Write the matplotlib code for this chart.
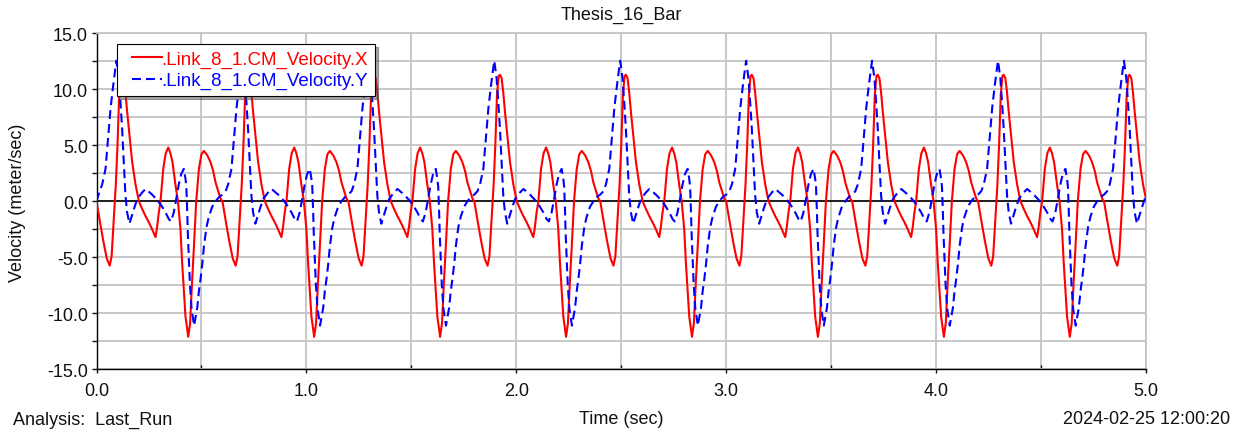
import numpy as np
import matplotlib
matplotlib.use("Agg")
import matplotlib.pyplot as plt
from matplotlib.legend_handler import HandlerLine2D
from matplotlib.ticker import MultipleLocator, FormatStrFormatter

plt.rcParams['font.family'] = ['Liberation Sans', 'DejaVu Sans']

# ---- text ----
title = "Thesis_16_Bar"
x_label = "Time (sec)"
y_label = "Velocity (meter/sec)"
analysis_note = "Analysis:  Last_Run"
timestamp = "2024-02-25 12:00:20"
series_names = [".Link_8_1.CM_Velocity.X", ".Link_8_1.CM_Velocity.Y"]

# ---- data: one crank cycle of the link centre-of-mass velocity ----
period = 0.6      # s
t_end = 5.0       # s

phase_x = [0.000, 0.017, 0.033, 0.049, 0.063, 0.072, 0.083, 0.092, 0.100, 0.108,
           0.116, 0.122, 0.130, 0.138, 0.146, 0.154, 0.162, 0.170, 0.186, 0.202,
           0.218, 0.233, 0.250, 0.265, 0.281, 0.288, 0.296, 0.305, 0.318, 0.330,
           0.342, 0.352, 0.362, 0.376, 0.388, 0.400, 0.408, 0.416, 0.424, 0.437,
           0.446, 0.455, 0.464, 0.475, 0.488, 0.500, 0.512, 0.528, 0.543, 0.556,
           0.567, 0.580, 0.592]
vel_x = [0.0, -1.9, -3.6, -5.1, -5.75, -4.9, -1.3, 1.5, 5.0, 9.5,
         11.2, 11.3, 11.0, 9.7, 8.0, 6.5, 5.0, 3.5, 1.5, 0.0,
         -0.7, -1.3, -1.9, -2.5, -3.2, -2.4, -1.1, 0.0, 2.9, 4.3,
         4.8, 4.3, 3.5, 1.5, 0.0, -2.5, -5.5, -7.9, -10.3, -12.1,
         -10.9, -7.3, -4.1, 0.0, 2.9, 4.2, 4.5, 4.1, 3.5, 2.7,
         1.7, 0.9, 0.2]

phase_y = [0.000, 0.015, 0.027, 0.043, 0.051, 0.059, 0.067, 0.078, 0.088, 0.095,
           0.106, 0.114, 0.122, 0.130, 0.138, 0.146, 0.157, 0.178, 0.194, 0.218,
           0.234, 0.265, 0.290, 0.310, 0.329, 0.345, 0.355, 0.368, 0.376, 0.392,
           0.403, 0.416, 0.424, 0.428, 0.432, 0.435, 0.440, 0.445, 0.453, 0.465,
           0.480, 0.488, 0.496, 0.504, 0.512, 0.524, 0.535, 0.551, 0.567, 0.585]
vel_y = [0.6, 0.9, 1.5, 2.9, 4.7, 6.5, 8.3, 10.1, 11.6, 12.55,
         11.0, 8.9, 6.5, 3.5, 0.5, -1.0, -2.0, -0.7, 0.2, 0.8,
         1.1, 0.6, 0.1, -0.4, -1.0, -1.6, -1.8, -1.0, -0.2, 1.5,
         2.4, 2.9, 2.0, 1.3, -0.8, -2.8, -5.0, -7.4, -9.6, -11.1,
         -9.5, -8.0, -6.9, -5.6, -4.0, -2.3, -1.4, -0.5, 0.0, 0.4]
vel_y_start = 0.0  # simulation starts from rest in y

# ---- build the time histories from the repeating cycle ----
n_cycles = int(np.ceil(t_end / period)) + 1
time_x = np.concatenate([np.asarray(phase_x) + k * period for k in range(n_cycles)])
series_x = np.tile(vel_x, n_cycles)
time_y = np.concatenate([np.asarray(phase_y) + k * period for k in range(n_cycles)])
series_y = np.tile(vel_y, n_cycles).astype(float)
series_y[0] = vel_y_start

# ---- figure ----
W, H = 1243, 435
fig = plt.figure(figsize=(W / 100, H / 100), dpi=100)
left, right, top, bottom = 96.5, 1146.0, 34.3, 370.3
ax = fig.add_axes([left / W, 1 - bottom / H, (right - left) / W, (bottom - top) / H])

grid_color = "#c4c4c4"
ax.set_xlim(0, t_end)
ax.set_ylim(-15, 15)
ax.xaxis.set_major_locator(MultipleLocator(1.0))
ax.xaxis.set_minor_locator(MultipleLocator(0.5))
ax.yaxis.set_major_locator(MultipleLocator(5.0))
ax.yaxis.set_minor_locator(MultipleLocator(2.5))
ax.xaxis.set_major_formatter(FormatStrFormatter('%.1f'))
ax.yaxis.set_major_formatter(FormatStrFormatter('%.1f'))
ax.grid(True, which='both', axis='both', color=grid_color, lw=1.3, zorder=0)
ax.set_axisbelow(True)

ax.tick_params(axis='x', which='major', direction='out', length=3, width=1,
               pad=6, labelsize=13, colors='#111111')
ax.tick_params(axis='x', which='minor', direction='in', length=3, width=1,
               colors='#111111')
ax.tick_params(axis='y', which='both', direction='out', length=3.6, width=1,
               pad=2.5, labelsize=13, colors='#111111')

for side in ('left', 'bottom'):
    ax.spines[side].set_color('black')
    ax.spines[side].set_linewidth(1.0)
for side in ('top', 'right'):
    ax.spines[side].set_color(grid_color)
    ax.spines[side].set_linewidth(1.3)

ax.axhline(0, color='black', lw=1.2, zorder=1)

line_x, = ax.plot(time_x, series_x, color='#ff0000', lw=1.5, zorder=3,
                  label=series_names[0])
line_y, = ax.plot(time_y, series_y, color='#0000ff', lw=1.5, zorder=4,
                  dashes=(4.3, 2.4), label=series_names[1])

fs = 13.5
leg = ax.legend(handles=[line_x, line_y], loc='upper left',
                bbox_to_anchor=((116.7 - left) / (right - left), (bottom - 45.0) / (bottom - top)),
                borderaxespad=0, fontsize=fs, frameon=True, fancybox=False,
                edgecolor='black', framealpha=1, shadow=True,
                handlelength=2.05, handletextpad=0.0, borderpad=0.35,
                labelspacing=0.23, labelcolor='linecolor',
                handler_map={line_x: HandlerLine2D(xpad=0.45),
                             line_y: HandlerLine2D(xpad=0.45)})
leg.get_frame().set_linewidth(0.8)
leg.set_zorder(10)

# ---- surrounding text ----
fig.text(621 / W, 1 - 15 / H, title, ha='center', va='center', fontsize=13, color='#111111')
fig.text(621 / W, 1 - 420 / H, x_label, ha='center', va='center', fontsize=13, color='#111111')
fig.text(13 / W, 1 - 420 / H, analysis_note, ha='left', va='center', fontsize=13, color='#111111')
fig.text(1230 / W, 1 - 420 / H, timestamp, ha='right', va='center', fontsize=13, color='#111111')
fig.text(18 / W, 1 - 203 / H, y_label, ha='center', va='center', rotation=90,
         fontsize=13, color='#111111')

fig.savefig("out.png", dpi=100)
